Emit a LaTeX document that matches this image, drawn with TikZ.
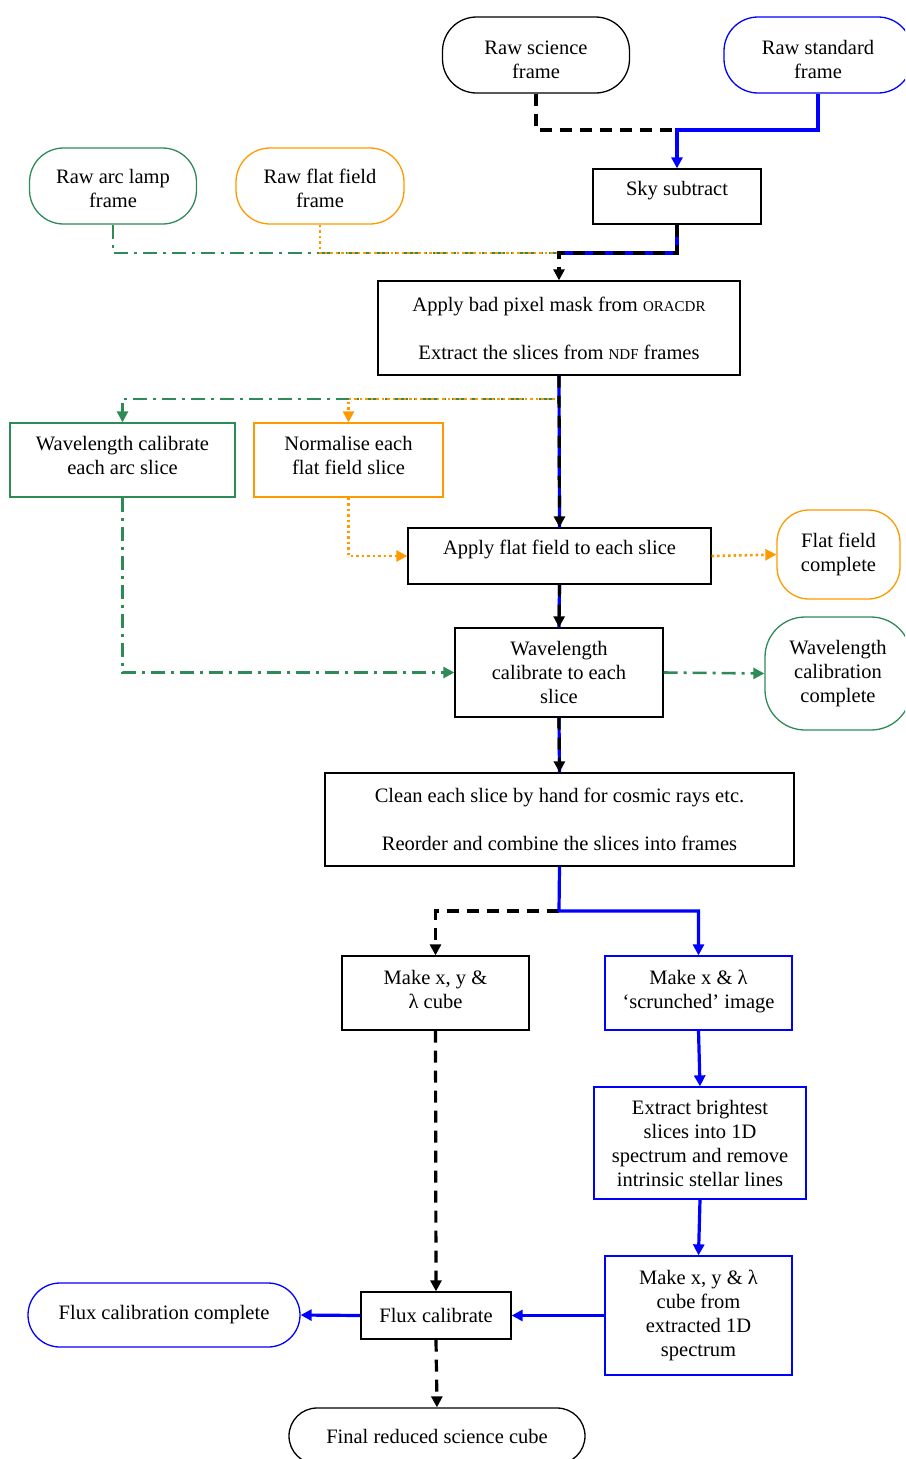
\documentclass[tikz,border=0pt]{standalone}
\usepackage{fontspec}
\setmainfont{Liberation Serif}
\usetikzlibrary{arrows.meta}
\definecolor{mygreen}{RGB}{46,139,87}
\definecolor{myorange}{RGB}{255,153,0}
\definecolor{myblue}{RGB}{0,0,255}
\newcommand{\smc}[1]{{\fontsize{15}{15}\selectfont #1}}
\begin{document}
\begin{tikzpicture}[x=1pt,y=-1pt,
  font=\fontsize{20.5}{24}\selectfont,
  every node/.style={align=center, inner sep=0pt},
  boxb/.style={draw=black, line width=1.3pt},
  boxblue/.style={draw=myblue, line width=1.3pt},
  boxgreen/.style={draw=mygreen, line width=1.3pt},
  boxorange/.style={draw=myorange, line width=1.3pt},
  sz/.style 2 args={minimum width=#1, minimum height=#2},
  blk/.style={line width=3.2pt, black, dash pattern=on 12pt off 8pt},
  blu/.style={line width=3.2pt, myblue},
  grn/.style={line width=2.6pt, mygreen, dash pattern=on 14pt off 6pt on 3pt off 6pt},
  org/.style={line width=2.6pt, myorange, dash pattern=on 2.5pt off 3pt},
  tip/.style={-{Triangle[length=11pt,width=11pt]}}
]
\useasboundingbox (0,0) rectangle (905,1459);
\clip (0,0) rectangle (905,1459);

% ---------- nodes ----------
\node[boxb, rounded corners=34pt, sz={187pt}{76pt}, text height=47pt] (rs) at (536,55) {Raw science\\frame};
\node[boxblue, rounded corners=34pt, sz={188pt}{76pt}, text height=47pt] (std) at (818,55) {Raw standard\\frame};
\node[boxgreen, rounded corners=34pt, sz={167pt}{76pt}, text height=44pt] (arc) at (113,186) {Raw arc lamp\\frame};
\node[boxorange, rounded corners=34pt, sz={168pt}{76pt}, text height=44pt] (rff) at (320,186) {Raw flat field\\frame};
\node[boxb, sz={168pt}{55pt}, text depth=16pt] (sky) at (677,196.5) {Sky subtract};
\node[boxb, sz={362pt}{94pt}] (bp) at (559,328) {Apply bad pixel mask from \smc{ORACDR}\\[24pt]Extract the slices from \smc{NDF} frames};
\node[boxgreen, sz={225pt}{74pt}, text depth=10pt] (wa) at (122.5,460) {Wavelength calibrate\\each arc slice};
\node[boxorange, sz={189pt}{74pt}, text depth=10pt] (nf) at (348.5,460) {Normalise each\\flat field slice};
\node[boxb, sz={303pt}{56pt}, text depth=18pt] (af) at (559.5,556) {Apply flat field to each slice};
\node[boxorange, rounded corners=32pt, sz={123pt}{89pt}] (ffc) at (838.5,554.5) {Flat field\\complete};
\node[boxb, sz={208pt}{89pt}] (wc) at (559,672.5) {Wavelength\\calibrate to each\\slice};
\node[boxgreen, rounded corners=40pt, sz={146pt}{113pt}] (wcc) at (838,673.5) {Wavelength\\calibration\\complete};
\node[boxb, sz={469pt}{93pt}] (cl) at (559.5,819.5) {Clean each slice by hand for cosmic rays etc.\\[24pt]Reorder and combine the slices into frames};
\node[boxb, sz={187pt}{74pt}, text depth=7pt] (cube) at (435.5,993) {Make x, y \&\\λ cube};
\node[boxblue, sz={187pt}{74pt}, text depth=8pt] (scr) at (698.5,993) {Make x \& λ\\‘scrunched’ image};
\node[boxblue, sz={212pt}{112pt}] (ext) at (700,1143) {Extract brightest\\slices into 1D\\spectrum and remove\\intrinsic stellar lines};
\node[boxblue, sz={187pt}{119pt}] (mc) at (698.5,1315.5) {Make x, y \& λ\\cube from\\extracted 1D\\spectrum};
\node[boxb, sz={150pt}{47pt}] (flux) at (436,1315.5) {Flux calibrate};
\node[boxblue, rounded corners=32pt, sz={272pt}{64pt}] (fcc) at (164,1315) {Flux calibration complete};
\node[boxb, rounded corners=28pt, sz={296pt}{56pt}] (fin) at (437,1436) {Final reduced science cube};

% ---------- junction coordinates ----------
\coordinate (j1) at (677,130);
\coordinate (j2) at (559,253);
\coordinate (j3) at (559,399);
\coordinate (j4) at (559,911);

% ---------- connectors ----------
% top: raw frames into sky subtract
\draw[blk] (rs.south) |- (j1);
\draw[blu,tip] (std.south) |- (j1) -- (sky.north);

% arc lamp and flat field into bad pixel
\draw[grn] (arc.south) |- (j2);
\draw[org] (rff.south) |- (j2);
\draw[blu] (sky.south) |- (j2);
\draw[blk,tip] (sky.south) |- (j2) -- (bp.north);

% branches at y=399
\draw[grn,tip] (bp.south) -- (j3) -| (wa.north);
\draw[org,tip] (bp.south) -- (j3) -| (nf.north);
\draw[blu] (bp.south) -- (af.north);
\draw[blk,tip] (bp.south) -- (af.north);

% normalise to apply flat
\draw[org,tip] (nf.south) |- (af.west);
% arc calibration to wavelength calibrate
\draw[grn,tip] (wa.south) |- (wc.west);

% side outputs
\draw[org,tip] (af.east) -- (ffc.west);
\draw[grn,tip] (wc.east) -- (wcc.west);

% main chain
\draw[blu] (af.south) -- (wc.north);
\draw[blk,tip] (af.south) -- (wc.north);
\draw[blu] (wc.south) -- (cl.north);
\draw[blk,tip] (wc.south) -- (cl.north);

% split after clean
\draw[blk,tip] (j4) -| (cube.north);
\draw[blu,tip] (cl.south) -- (j4) -| (scr.north);

% left (science) branch
\draw[blk,tip] (cube.south) -- (flux.north);
% right (standard) branch
\draw[blu,tip] (scr.south) -- (ext.north);
\draw[blu,tip] (ext.south) -- (mc.north);
\draw[blu,tip] (mc.west) -- (flux.east);
\draw[blu,tip] (flux.west) -- (fcc.east);
\draw[blk,tip] (flux.south) -- (fin.north);
\end{tikzpicture}
\end{document}
